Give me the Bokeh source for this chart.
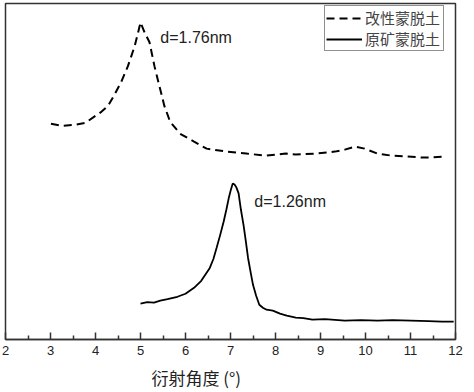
from bokeh.plotting import figure
from bokeh.models import Range1d, FixedTicker, Title, Label
from bokeh.embed import file_html
from bokeh.resources import INLINE

# Modified montmorillonite (dashed)
mod_x = [3.01, 3.25, 3.56, 3.78, 4.00, 4.13, 4.28, 4.43, 4.57, 4.72, 4.87, 4.98, 5.00, 5.09,
         5.20, 5.31, 5.42, 5.53, 5.66, 5.88, 6.19, 6.47, 6.91, 7.35, 7.79, 8.23, 8.45, 8.89,
         9.32, 9.54, 9.76, 9.98, 10.27, 10.57, 10.93, 11.30, 11.80]
mod_y = [218, 216, 217, 219, 226, 230, 236, 248, 260, 276, 296, 316, 320, 310,
         300, 276, 256, 236, 220, 208, 200, 193, 190, 188, 186, 188, 187, 188,
         190, 192, 195, 193, 188, 186, 185, 184, 185]

# Raw montmorillonite (solid)
raw_x = [5.00, 5.15, 5.30, 5.44, 5.60, 5.82, 6.00, 6.19, 6.35, 6.54, 6.62, 6.69, 6.77, 6.85,
         6.91, 6.96, 7.01, 7.05, 7.09, 7.13, 7.18, 7.23, 7.29, 7.34, 7.39, 7.45, 7.50, 7.57,
         7.64, 7.72, 7.80, 7.94, 8.10, 8.25, 8.45, 8.62, 8.82, 9.10, 9.54, 9.90, 10.27, 10.60,
         11.01, 11.40, 11.70, 11.96]
raw_y = [37, 38.5, 38, 40, 41.5, 44, 47, 53, 60, 73, 82, 93, 106, 120,
         132, 143, 152, 158, 157, 154, 148, 132, 116, 100, 83, 68, 56, 45,
         36, 33, 31, 30, 27, 25, 23, 22.5, 21, 21.5, 20, 20.5, 20, 20.5,
         20, 19.5, 19, 19]

x_ticks = [2, 3, 4, 5, 6, 7, 8, 9, 10, 11, 12]
x_minor = [2.5, 3.5, 4.5, 5.5, 6.5, 7.5, 8.5, 9.5, 10.5, 11.5]
labels = ["改性蒙脱土", "原矿蒙脱土"]
notes = ["d=1.76nm", "d=1.26nm"]
note_x = [5.44, 7.53]
note_y = [305, 140]

FH = 336
p = figure(frame_width=450, frame_height=FH, x_range=Range1d(2, 12), y_range=Range1d(1, 339),
           output_backend="svg", toolbar_location=None,
           min_border_left=5, min_border_right=8, min_border_top=3, min_border_bottom=0)
p.background_fill_color = "white"
p.border_fill_color = "white"
p.grid.visible = False
p.yaxis.visible = False
p.outline_line_color = "#333333"
p.outline_line_width = 1.5

p.line(mod_x, mod_y, line_color="black", line_width=2, line_dash="8 5", legend_label=labels[0])
p.line(raw_x, raw_y, line_color="black", line_width=1.8, legend_label=labels[1])

for t, xx, yy in zip(notes, note_x, note_y):
    p.add_layout(Label(x=xx, y=yy, text=t, text_font="Liberation Sans", text_font_size="16px",
                       text_baseline="middle", text_color="#222222"))

ax = p.xaxis[0]
ax.ticker = FixedTicker(ticks=x_ticks, minor_ticks=x_minor)
ax.axis_line_color = "#333333"
ax.axis_line_width = 1.5
ax.major_tick_in = 7
ax.major_tick_out = 0
ax.minor_tick_in = 4
ax.minor_tick_out = 0
ax.major_tick_line_color = "#333333"
ax.minor_tick_line_color = "#333333"
ax.major_tick_line_width = 1.5
ax.minor_tick_line_width = 1.5
ax.major_label_text_font = "Liberation Sans"
ax.major_label_text_font_size = "13px"
ax.major_label_text_color = "#222222"
ax.major_label_standoff = 6

p.add_layout(Title(text="衍射角度 (°)", text_font="Noto Sans CJK SC", text_font_size="17px",
                   text_font_style="normal", align="left", offset=146, text_color="#222222"), "below")

lg = p.legend[0]
lg.location = (319, FH - 10 - 38)
lg.border_line_color = "#222222"
lg.border_line_width = 1
lg.padding = 1
lg.spacing = 0
lg.margin = 0
lg.glyph_width = 36
lg.glyph_height = 16
lg.label_height = 16
lg.label_width = 77
lg.label_standoff = 3
lg.label_text_font = "Noto Sans CJK SC"
lg.label_text_font_size = "15px"
lg.label_text_line_height = 0.9
lg.label_text_baseline = "middle"

open("out.html", "w").write(file_html(p, INLINE))
